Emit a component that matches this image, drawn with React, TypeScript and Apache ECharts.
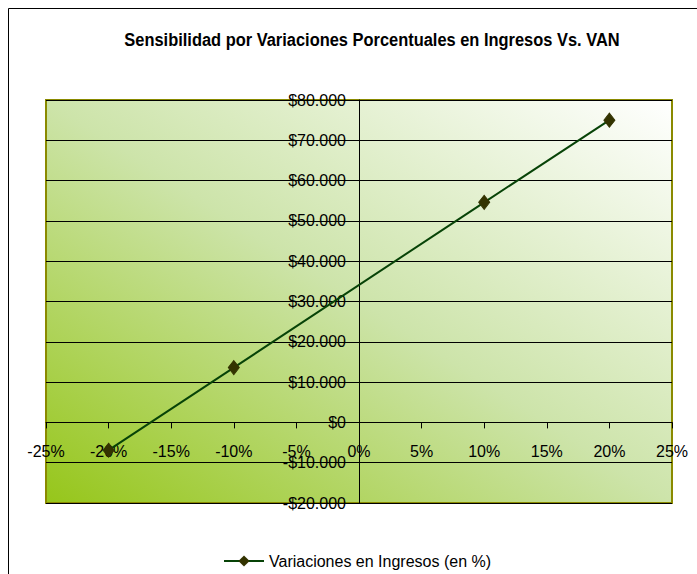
import React, { useEffect, useRef } from "react";
import * as echarts from "echarts";

const titleText = "Sensibilidad por Variaciones Porcentuales en Ingresos Vs. VAN";
const seriesName = "Variaciones en Ingresos (en %)";
const variations = [-20, -10, 10, 20];
const vanValues = [-6900, 13600, 54600, 75000];
const xTicks = { min: -25, max: 25, interval: 5 };
const yTicks = { min: -20000, max: 80000, interval: 10000 };

const FONT = "'Liberation Sans', Arial, sans-serif";

function fmtMoney(v: number): string {
  const abs = Math.abs(v);
  const s = abs.toString().replace(/\B(?=(\d{3})+(?!\d))/g, ".");
  return (v < 0 ? "-$" : "$") + s;
}

export default function App() {
  const ref = useRef<HTMLDivElement>(null);
  useEffect(() => {
    if (!ref.current) return;
    const chart = echarts.init(ref.current, null, { renderer: "svg" });
    chart.setOption({
      animation: false,
      backgroundColor: "#ffffff",
      textStyle: { fontFamily: FONT },
      graphic: [
        {
          type: "rect",
          shape: { x: 8.5, y: 8.5, width: 720, height: 620 },
          style: { fill: "none", stroke: "#000", lineWidth: 1 },
          z: -10,
        },
        {
          type: "text",
          x: 372,
          y: 40,
          scaleX: 0.865,
          style: {
            text: titleText,
            textAlign: "center",
            textVerticalAlign: "middle",
            fontFamily: FONT,
            fontWeight: "bold",
            fontSize: 19,
            fill: "#000",
          },
        },
      ],
      legend: {
        left: 223,
        top: 553,
        padding: 0,
        itemWidth: 40,
        itemHeight: 14,
        itemGap: 4,
        textStyle: { fontFamily: FONT, fontSize: 16, color: "#000" },
        data: [seriesName],
      },
      grid: {
        left: 46,
        right: 25,
        top: 100,
        bottom: 71,
        containLabel: false,
        outerBoundsMode: "none",
        show: true,
        borderColor: "#8a8a00",
        borderWidth: 2,
        backgroundColor: new echarts.graphic.LinearGradient(0, 1, 1, 0, [
          { offset: 0, color: "#96c61a" },
          { offset: 0.5, color: "#cde4aa" },
          { offset: 1, color: "#ffffff" },
        ]),
      },
      xAxis: {
        type: "value",
        min: xTicks.min,
        max: xTicks.max,
        interval: xTicks.interval,
        axisLine: { onZero: false, lineStyle: { color: "#000", width: 1 } },
        axisTick: { show: true, length: 6, lineStyle: { color: "#000" } },
        splitLine: { show: false },
        axisLabel: {
          formatter: (v: number) => `${v}%`,
          color: "#000",
          fontSize: 16,
          fontFamily: FONT,
          margin: 21,
          hideOverlap: false,
        },
      },
      yAxis: {
        type: "value",
        min: yTicks.min,
        max: yTicks.max,
        interval: yTicks.interval,
        axisLine: { show: true, onZero: false, lineStyle: { color: "#000", width: 1 } },
        axisTick: { show: true, length: 4, lineStyle: { color: "#000" } },
        splitLine: { show: true, lineStyle: { color: "#000", width: 1 } },
        axisLabel: {
          formatter: (v: number) => fmtMoney(v),
          color: "#000",
          fontSize: 16,
          fontFamily: FONT,
          margin: 13,
          hideOverlap: false,
        },
      },
      series: [
        {
          name: seriesName,
          type: "line",
          data: variations.map((x, i) => [x, vanValues[i]]),
          lineStyle: { color: "#074307", width: 2 },
          itemStyle: { color: "#333300", borderColor: "#333300" },
          symbol: "diamond",
          symbolSize: [11, 14],
          showSymbol: true,
        },
      ],
    });
    // Move both axes so they cross at the origin (0, $0)
    const origin = chart.convertToPixel({ gridIndex: 0 }, [0, 0]) as number[];
    const corner = chart.convertToPixel({ gridIndex: 0 }, [xTicks.min, yTicks.min]) as number[];
    chart.setOption({
      xAxis: { offset: origin[1] - corner[1] },
      yAxis: { offset: corner[0] - origin[0] },
    });
    return () => chart.dispose();
  }, []);
  return (
    <div
      ref={ref}
      style={{ position: "absolute", left: 0, top: 0, width: 697, height: 574 }}
    />
  );
}
